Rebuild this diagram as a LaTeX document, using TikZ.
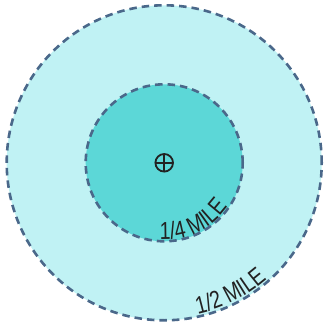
\documentclass[tikz,border=0pt]{standalone}
\usepackage{fontspec}
\newfontfamily\milefont[FakeStretch=0.8]{Liberation Sans}
\usetikzlibrary{decorations.text}
\definecolor{outerfill}{RGB}{192,242,244}
\definecolor{innerfill}{RGB}{92,215,215}
\definecolor{ringline}{RGB}{74,104,138}
\definecolor{inkdark}{RGB}{34,34,34}
\tikzset{
  ring/.style={draw=ringline, line width=2.6pt, dash pattern=on 7.5pt off 5pt},
  ringlabel/.style={decorate, decoration={text along path, text align=center,
     text={|\milefont\fontsize{24.5}{24.5}\selectfont\color{inkdark}|#1}}},
}
\begin{document}
\begin{tikzpicture}[x=1pt,y=1pt]
\useasboundingbox (0,0) rectangle (323,-328);
\coordinate (c) at (164.2,-162.8);
\fill[outerfill] (c) circle[radius=157.5];
\draw[ring] (c) circle[radius=157.5];
\fill[innerfill] (c) circle[radius=78.5];
\draw[ring] (c) circle[radius=78.5];
\draw[inkdark, line width=1.8pt] (c) circle[radius=8.8];
\draw[inkdark, line width=1.8pt] ([xshift=-8.8pt]c) -- ([xshift=8.8pt]c);
\draw[inkdark, line width=1.8pt] ([yshift=-8.8pt]c) -- ([yshift=8.8pt]c);
\path[ringlabel={1/4 MILE}] (c) ++(-114:77) arc[start angle=-114, end angle=-14, radius=77];
\path[ringlabel={1/2 MILE}] (c) ++(-103:155) arc[start angle=-103, end angle=-23, radius=155];
\end{tikzpicture}
\end{document}
